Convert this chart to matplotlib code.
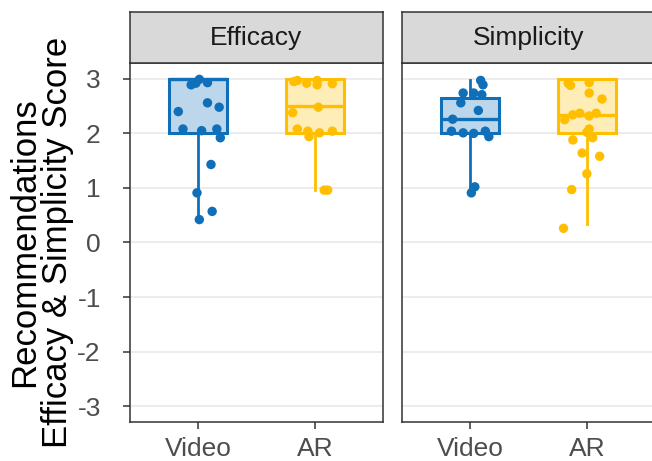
import matplotlib
matplotlib.use("Agg")
import matplotlib.pyplot as plt
from matplotlib.colors import to_rgba

plt.rcParams['font.family'] = ['Liberation Sans', 'DejaVu Sans']
plt.rcParams['axes.unicode_minus'] = False

# ---------------- data ----------------
panels = ["Efficacy", "Simplicity"]
groups = ["Video", "AR"]
colors = {"Video": "#0F6FB8", "AR": "#FFBF00"}
yticks = [-3, -2, -1, 0, 1, 2, 3]
ylabel = "Recommendations\nEfficacy & Simplicity Score"

# box statistics (q1, median, q3, whisker low, whisker high)
eff_video_box = [2.0, 3.0, 3.0, 0.42, 3.0]
eff_ar_box = [2.0, 2.5, 3.0, 0.97, 3.0]
sim_video_box = [2.0, 2.27, 2.65, 0.97, 2.97]
sim_ar_box = [2.0, 2.33, 3.0, 0.33, 3.0]

# jittered points: x offsets from group centre, y values
eff_video_dx = [-0.06, 0.01, 0.08, -0.02, 0.08, 0.18, -0.17, -0.13, 0.03, 0.16, 0.19, 0.11, -0.01, 0.12, 0.01]
eff_video_y = [2.89, 2.99, 2.93, 2.92, 2.56, 2.48, 2.40, 2.08, 2.05, 2.08, 1.92, 1.43, 0.91, 0.57, 0.42]

eff_ar_dx = [-0.18, -0.15, -0.07, 0.02, 0.02, 0.15, -0.19, 0.03, -0.15, -0.06, -0.05, 0.04, 0.15, 0.08, 0.11]
eff_ar_y = [2.95, 2.97, 2.92, 2.89, 2.97, 2.91, 2.38, 2.48, 2.08, 2.04, 1.94, 2.01, 2.04, 0.96, 0.96]

sim_video_dx = [0.09, 0.11, -0.06, 0.03, 0.10, -0.08, 0.07, -0.15, -0.16, -0.06, 0.03, 0.13, 0.16, 0.04, 0.01]
sim_video_y = [2.97, 2.89, 2.74, 2.74, 2.71, 2.56, 2.42, 2.26, 2.04, 2.01, 2.00, 2.04, 1.94, 1.02, 0.91]

sim_ar_dx = [-0.16, -0.14, 0.02, 0.02, 0.13, -0.19, -0.12, -0.06, 0.02, 0.08, 0.02, 0.00, -0.12, 0.05, -0.04, 0.11, 0.00, -0.13, -0.20]
sim_ar_y = [2.92, 2.88, 2.93, 2.74, 2.63, 2.25, 2.34, 2.37, 2.32, 2.37, 2.08, 2.02, 1.88, 1.92, 1.64, 1.58, 1.26, 0.97, 0.26]

boxes = {
    "Efficacy": [eff_video_box, eff_ar_box],
    "Simplicity": [sim_video_box, sim_ar_box],
}
points = {
    "Efficacy": [(eff_video_dx, eff_video_y), (eff_ar_dx, eff_ar_y)],
    "Simplicity": [(sim_video_dx, sim_video_y), (sim_ar_dx, sim_ar_y)],
}

# ---------------- figure ----------------
W, H = 652, 461
fig = plt.figure(figsize=(W / 100, H / 100), dpi=100)

def fx(px):
    return px / W

def fy(py):
    return 1 - py / H

panel_left = [130, 402]
panel_w = 253
top, bottom = 63, 422
strip_top = 12

for i, name in enumerate(panels):
    L = panel_left[i]
    ax = fig.add_axes([fx(L), fy(bottom), panel_w / W, (bottom - top) / H])
    ax.set_xlim(0.416, 2.584)
    ax.set_ylim(-3.29, 3.29)
    ax.set_yticks(yticks)
    ax.set_xticks([1, 2])
    ax.set_xticklabels(groups)
    for y in yticks:
        ax.axhline(y, color="#EBEBEB", lw=1.3, zorder=0)
    for sp in ax.spines.values():
        sp.set_color("#333333")
        sp.set_linewidth(1.1)
    ax.tick_params(axis="both", length=5, width=1.1, color="#333333",
                   labelsize=19, labelcolor="#4D4D4D")
    ax.tick_params(axis="y", pad=16)
    ax.tick_params(axis="x", pad=6)
    if i > 0:
        ax.tick_params(axis="y", left=False, labelleft=False)

    for j, g in enumerate(groups):
        q1, med, q3, lo, hi = boxes[name][j]
        col = colors[g]
        stats = [dict(q1=q1, med=med, q3=q3, whislo=lo, whishi=hi, fliers=[])]
        ax.bxp(stats, positions=[j + 1], widths=0.5, patch_artist=True,
               showcaps=False, showfliers=False,
               boxprops=dict(facecolor=to_rgba(col, 0.28), edgecolor=col, linewidth=2.2),
               medianprops=dict(color=col, linewidth=2.4, solid_capstyle="butt"),
               whiskerprops=dict(color=col, linewidth=2.0),
               manage_ticks=False)
        dx, yy = points[name][j]
        ax.scatter([j + 1 + d for d in dx], yy, s=46, color=col, zorder=5,
                   edgecolors="none")

    # strip
    sax = fig.add_axes([fx(L), fy(top), panel_w / W, (top - strip_top) / H])
    sax.set_facecolor("#D9D9D9")
    sax.set_xticks([])
    sax.set_yticks([])
    for sp in sax.spines.values():
        sp.set_color("#333333")
        sp.set_linewidth(1.1)
    sax.text(0.5, 0.5, name, ha="center", va="center", fontsize=19,
             color="#1A1A1A", transform=sax.transAxes)

fig.text(fx(41), fy((top + bottom) / 2), ylabel, rotation=90, ha="center",
         va="center", fontsize=25, color="black", linespacing=1.0,
         multialignment="center")

fig.savefig("out.png", dpi=100)
